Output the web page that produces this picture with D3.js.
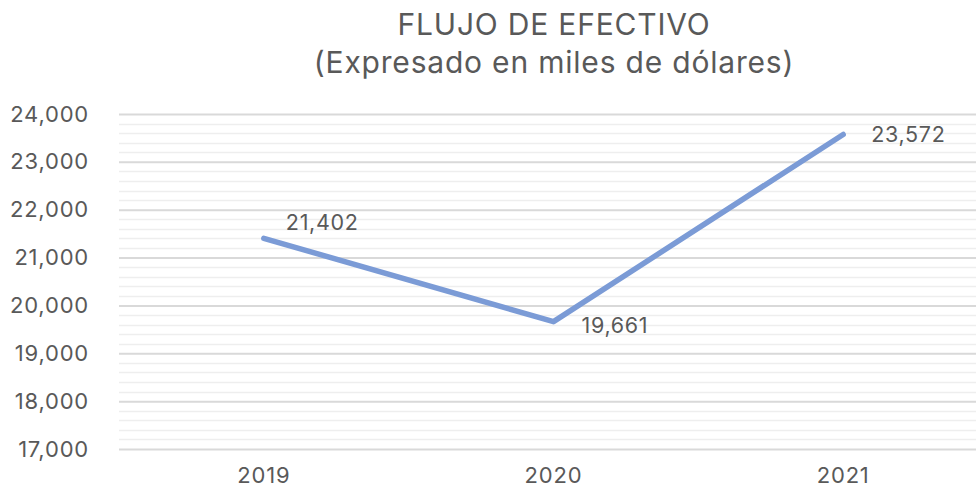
<!DOCTYPE html>
<html>
<head>
<meta charset="utf-8">
<script src="https://cdn.jsdelivr.net/npm/d3@7"></script>
<style>
  body { margin: 0; background: #fff; }
  text { font-family: "Inter", "Noto Sans", sans-serif; }
</style>
</head>
<body>
<div class="chart"></div>
<script>
var years = ["2019", "2020", "2021"];
var values = [21402, 19661, 23572];
var yTicks = [17000, 18000, 19000, 20000, 21000, 22000, 23000, 24000];
var titleLines = ["FLUJO DE EFECTIVO", "(Expresado en miles de dólares)"];

var svgWidth = 976;
var svgHeight = 490;

var margin = { top: 114, right: -12, bottom: 41, left: 119 };
var width = svgWidth - margin.left - margin.right;
var height = svgHeight - margin.top - margin.bottom;

var svg = d3.select(".chart")
  .append("svg")
  .attr("width", svgWidth)
  .attr("height", svgHeight);

var chartGroup = svg.append("g")
  .attr("transform", `translate(${margin.left}, ${margin.top})`);

var xScale = d3.scaleBand()
  .domain(years)
  .range([0, width]);

var yScale = d3.scaleLinear()
  .domain([17000, 24000])
  .range([height, 0]);

// minor gridlines every 200
var minor = d3.range(17000, 24001, 200).filter(d => d % 1000 !== 0);
chartGroup.selectAll(".minor")
  .data(minor)
  .enter()
  .append("line")
  .attr("x1", 0)
  .attr("x2", width)
  .attr("y1", d => Math.round(yScale(d)) + 0.5)
  .attr("y2", d => Math.round(yScale(d)) + 0.5)
  .attr("stroke", "#eeeeee")
  .attr("stroke-width", 1.5);

// major gridlines + labels via axis
var leftAxis = d3.axisLeft(yScale)
  .tickValues(yTicks)
  .tickSize(-width)
  .tickPadding(30)
  .tickFormat(d3.format(","));

var yAxis = chartGroup.append("g").call(leftAxis);
yAxis.select(".domain").remove();
yAxis.selectAll(".tick line")
  .attr("stroke", "#d9d9d9")
  .attr("stroke-width", 2);
yAxis.selectAll(".tick text")
  .attr("fill", "#595959")
  .style("font-family", "Inter, sans-serif")
  .style("font-size", "22px")
  .style("letter-spacing", "0.8px");

var bottomAxis = d3.axisBottom(xScale).tickSize(0).tickPadding(18);
var xAxis = chartGroup.append("g")
  .attr("transform", `translate(0, ${height})`)
  .call(bottomAxis);
xAxis.select(".domain").remove();
xAxis.selectAll(".tick text")
  .attr("fill", "#595959")
  .style("font-family", "Inter, sans-serif")
  .style("font-size", "22px")
  .style("letter-spacing", "0.8px");

var line = d3.line()
  .x((d, i) => xScale(years[i]) + xScale.bandwidth() / 2)
  .y(d => yScale(d));

chartGroup.append("path")
  .datum(values)
  .attr("d", line)
  .attr("fill", "none")
  .attr("stroke", "#7b9bd6")
  .attr("stroke-width", 5.5)
  .attr("stroke-linecap", "round")
  .attr("stroke-linejoin", "round");

// data labels
var labelOffsets = [[22, -16], [28, 4], [28, 0]];
chartGroup.selectAll(".dlabel")
  .data(values)
  .enter()
  .append("text")
  .attr("x", (d, i) => xScale(years[i]) + xScale.bandwidth() / 2 + labelOffsets[i][0])
  .attr("y", (d, i) => yScale(d) + labelOffsets[i][1])
  .attr("dy", "0.35em")
  .attr("fill", "#595959")
  .style("font-size", "21.5px")
  .style("letter-spacing", "0.7px")
  .text(d => d3.format(",")(d));

// title
svg.selectAll(".title")
  .data(titleLines)
  .enter()
  .append("text")
  .attr("x", 554)
  .attr("y", (d, i) => 35 + i * 38)
  .attr("text-anchor", "middle")
  .attr("fill", "#595959")
  .style("font-size", "30px")
  .style("letter-spacing", "0.8px")
  .text(d => d);
</script>
</body>
</html>
